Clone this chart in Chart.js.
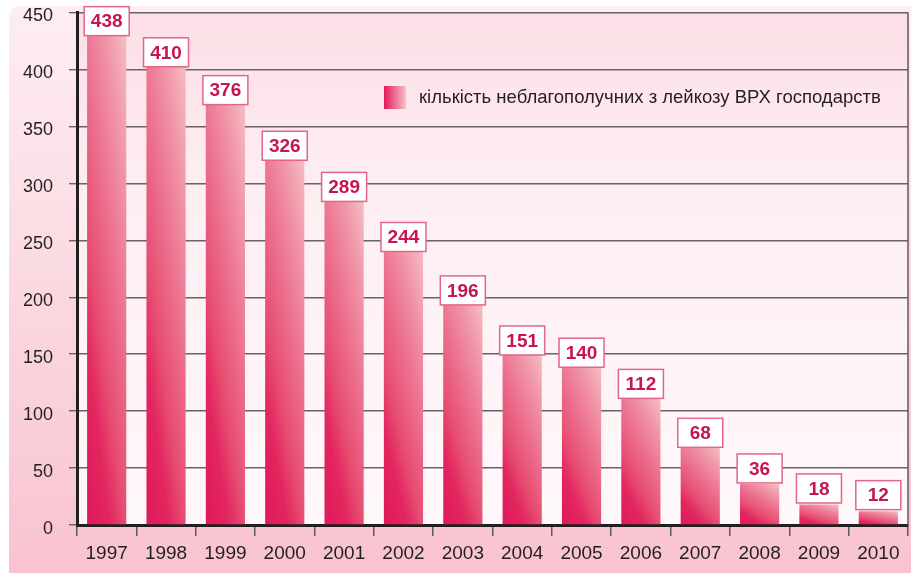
<!DOCTYPE html>
<html>
<head>
<meta charset="utf-8">
<script src="https://cdn.jsdelivr.net/npm/chart.js@4"></script>
<style>
  html, body { margin: 0; padding: 0; background: #fff; }
  #wrap { width: 911px; height: 573px; }
</style>
</head>
<body>
<div id="wrap"><canvas id="farmsChart" width="911" height="573"></canvas></div>
<script>
// data
var years = ['1997', '1998', '1999', '2000', '2001', '2002', '2003', '2004', '2005', '2006', '2007', '2008', '2009', '2010'];
var farms = [438, 410, 376, 326, 289, 244, 196, 151, 140, 112, 68, 36, 18, 12];
var yMax = 450;
var yStep = 50;
var legendLabel = 'кількість неблагополучних з лейкозу ВРХ господарств';

var FONT = '"Liberation Sans", Arial, sans-serif';
var BAR_PCT = 0.66;

// gradient for a single bar: deep at bottom-left, pale at top-right (per bar)
function barGradient(context) {
	var chart = context.chart;
	var area = chart.chartArea;
	var xs = chart.scales.x, ys = chart.scales.y;
	if (!area || !xs || !ys) return '#e0195a';
	var cx = xs.getPixelForValue(context.dataIndex);
	var w = (area.right - area.left) / years.length * BAR_PCT;
	var base = ys.getPixelForValue(0);
	var h = base - ys.getPixelForValue(farms[context.dataIndex]);
	if (!isFinite(cx) || !(w > 0) || !(h > 0)) return '#e0195a';
	var left = cx - w / 2;
	var p = 0.35 / w, q = 0.6 / h;
	var s = 1 / (p * p + q * q);
	var g = chart.ctx.createLinearGradient(left, base, left + p * s, base - q * s);
	g.addColorStop(0, '#e0195a');
	g.addColorStop(0.2, '#e2255f');
	g.addColorStop(0.35, '#e74e72');
	g.addColorStop(0.55, '#ec6f8e');
	g.addColorStop(0.75, '#f094a8');
	g.addColorStop(0.95, '#f5c0c4');
	return g;
}

var backdrop = {
	id: 'backdrop',
	beforeDraw: function(chart) {
		var ctx = chart.ctx, area = chart.chartArea;
		ctx.save();
		ctx.fillStyle = '#ffffff';
		ctx.fillRect(0, 0, chart.width, chart.height);
		var g = ctx.createLinearGradient(0, 0, 0, chart.height);
		g.addColorStop(0, '#fdeef2');
		g.addColorStop(0.4, '#fbdde4');
		g.addColorStop(1, '#f8c3cf');
		ctx.fillStyle = g;
		ctx.beginPath();
		ctx.roundRect(9, 6, chart.width + 20, chart.height + 20, 10);
		ctx.fill();
		var pg = ctx.createLinearGradient(0, area.top, 0, area.bottom);
		pg.addColorStop(0, '#fcdfe6');
		pg.addColorStop(0.35, '#fdeef2');
		pg.addColorStop(1, '#fff8fa');
		ctx.fillStyle = pg;
		ctx.fillRect(area.left, area.top, area.right - area.left, area.bottom - area.top);
		ctx.restore();
	},
	afterDatasetsDraw: function(chart) {
		var ctx = chart.ctx, area = chart.chartArea;
		var meta = chart.getDatasetMeta(0);
		var base = chart.scales.y.getPixelForValue(0);
		ctx.save();
		// right frame
		ctx.strokeStyle = '#5e5a5b';
		ctx.lineWidth = 1.5;
		ctx.beginPath();
		ctx.moveTo(area.right, area.top);
		ctx.lineTo(area.right, area.bottom);
		ctx.stroke();

		// value boxes, sitting on the bar tops
		ctx.font = 'bold 19px ' + FONT;
		ctx.textAlign = 'center';
		ctx.textBaseline = 'middle';
		meta.data.forEach(function(bar, i) {
			var bw = 45, bh = 29;
			var h = base - bar.y;
			var x = bar.x - bw / 2;
			var y = bar.y - 2 + h * 0.023 - bh;
			ctx.fillStyle = '#ffffff';
			ctx.fillRect(x, y, bw, bh);
			ctx.strokeStyle = '#e3658b';
			ctx.lineWidth = 1.5;
			ctx.strokeRect(x, y, bw, bh);
			ctx.fillStyle = '#c8154f';
			ctx.fillText(String(farms[i]), bar.x, y + bh / 2 + 1);
		});

		// legend
		var lg = ctx.createLinearGradient(384, 0, 406, 0);
		lg.addColorStop(0, '#e0195a');
		lg.addColorStop(1, '#f7c2c9');
		ctx.fillStyle = lg;
		ctx.fillRect(384, 86, 22, 23);
		ctx.font = '18.5px ' + FONT;
		ctx.textAlign = 'left';
		ctx.fillStyle = '#231f20';
		ctx.fillText(legendLabel, 419, 98);
		ctx.restore();
	}
};

var ctx = document.getElementById('farmsChart');

var chart = new Chart(ctx, {
	type: 'bar',
	data: {
		labels: years,
		datasets: [{
			label: legendLabel,
			data: farms,
			backgroundColor: barGradient,
			borderWidth: 0,
			barPercentage: BAR_PCT,
			categoryPercentage: 1
		}]
	},
	options: {
		responsive: false,
		animation: false,
		layout: {
			padding: { left: 0, top: 12.5, right: 3, bottom: 0 }
		},
		plugins: {
			legend: { display: false },
			tooltip: { enabled: false }
		},
		scales: {
			x: {
				offset: true,
				grid: {
					offset: true,
					drawOnChartArea: false,
					drawTicks: true,
					tickLength: 11,
					color: '#5e5a5b',
					lineWidth: 1.5
				},
				border: { display: true, color: '#231f20', width: 3 },
				ticks: {
					color: '#231f20',
					font: { family: FONT, size: 19 },
					padding: 6,
					maxRotation: 0
				},
				afterFit: function(scale) {
					scale.height = 48;
					scale.paddingLeft = 0;
					scale.paddingRight = 0;
				}
			},
			y: {
				min: 0,
				max: yMax,
				ticks: {
					stepSize: yStep,
					color: '#231f20',
					font: { family: FONT, size: 18 },
					padding: 16,
					labelOffset: 4
				},
				grid: {
					color: '#676364',
					lineWidth: 1.4,
					tickLength: 8
				},
				border: { display: true, color: '#231f20', width: 3 },
				afterFit: function(scale) {
					scale.width = 77;
					scale.paddingTop = 0;
					scale.paddingBottom = 0;
				}
			}
		}
	},
	plugins: [backdrop]
});
</script>
</body>
</html>
